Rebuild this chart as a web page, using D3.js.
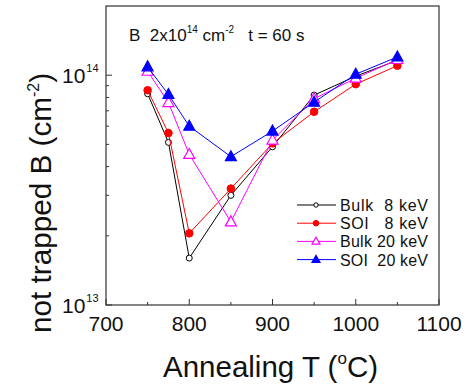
<!DOCTYPE html>
<html><head><meta charset="utf-8">
<script src="https://cdn.jsdelivr.net/npm/d3@7"></script>
<style>body{margin:0;background:#fff}svg{display:block;font-family:"Liberation Sans",Arial,sans-serif}text{white-space:pre}</style>
</head><body><svg id="c" width="468" height="385"></svg>
<script>
const temps = [750, 775, 800, 850, 900, 950, 1000, 1050];
const bulk8  = [8.3e13, 5.1e13, 1.6e13, 3.0e13, 4.88e13, 8.19e13, 9.9e13, 1.16e14];
const soi8   = [8.6e13, 5.6e13, 2.05e13, 3.21e13, 5.05e13, 6.93e13, 9.14e13, 1.1e14];
const bulk20 = [1.04e14, 7.6e13, 4.52e13, 2.3e13, 5.22e13, 7.9e13, 9.7e13, 1.17e14];
const soi20  = [1.087e14, 8.24e13, 6.0e13, 4.42e13, 5.71e13, 7.63e13, 1.01e14, 1.2e14];
const seriesNames = ["Bulk  8 keV", "SOI   8 keV", "Bulk 20 keV", "SOI  20 keV"];
const xTicks = [700, 800, 900, 1000, 1100];

const series = [
  {name: seriesNames[0], vals: bulk8,  color: "#000000", shape: "circle", fill: "#fff"},
  {name: seriesNames[1], vals: soi8,   color: "#ff0000", shape: "circle", fill: "#ff0000"},
  {name: seriesNames[2], vals: bulk20, color: "#ff00ff", shape: "tri", fill: "#fff"},
  {name: seriesNames[3], vals: soi20,  color: "#0000ff", shape: "tri", fill: "#0000ff"}
];

const L = 106, R = 439, T = 6, B = 305;
const svg = d3.select("#c");
const x = d3.scaleLinear().domain([700, 1100]).range([L, R]);
const y = d3.scaleLog().domain([1e13, 2e14]).range([B, T]);

// frame
svg.append("rect").attr("x", L).attr("y", T).attr("width", R - L).attr("height", B - T)
  .attr("fill", "none").attr("stroke", "#333").attr("stroke-width", 1.2);

// x axis ticks (inward)
const xMinor = d3.range(750, 1100, 100);
const gx = svg.append("g");
xTicks.forEach(t => gx.append("line").attr("x1", x(t)).attr("x2", x(t)).attr("y1", B).attr("y2", B - 6).attr("stroke", "#333"));
xMinor.forEach(t => gx.append("line").attr("x1", x(t)).attr("x2", x(t)).attr("y1", B).attr("y2", B - 3).attr("stroke", "#333"));
xTicks.forEach(t => gx.append("text").attr("x", x(t)).attr("y", B + 26).attr("text-anchor", "middle")
  .attr("font-size", 21).attr("fill", "#111").text(t));

// y axis ticks
const gy = svg.append("g");
[1e13, 1e14].forEach(t => gy.append("line").attr("x1", L).attr("x2", L + 6).attr("y1", y(t)).attr("y2", y(t)).attr("stroke", "#333"));
const yMinor = [2,3,4,5,6,7,8,9].map(d => d * 1e13);
yMinor.forEach(t => gy.append("line").attr("x1", L).attr("x2", L + 3).attr("y1", y(t)).attr("y2", y(t)).attr("stroke", "#333"));
[[1e13, "13"], [1e14, "14"]].forEach(([v, e]) => {
  const t = gy.append("text").attr("x", 62).attr("y", y(v) + 8)
    .attr("font-size", 21).attr("fill", "#111");
  t.append("tspan").text("10");
  t.append("tspan").attr("dx", 1).attr("dy", -11).attr("font-size", 11).text(e);
});

// axis titles
const xt = svg.append("text").attr("x", 163).attr("y", 377)
  .attr("font-size", 29.5).attr("fill", "#111");
xt.append("tspan").text("Annealing T (");
xt.append("tspan").attr("dy", -13).attr("font-size", 17).text("o");
xt.append("tspan").attr("dy", 13).text("C)");

const yt = svg.append("text").attr("transform", `translate(51,333) rotate(-90)`)
  .attr("font-size", 29.7).attr("fill", "#111");
yt.append("tspan").text("not trapped B (cm");
yt.append("tspan").attr("dy", -12).attr("font-size", 16).text("-2");
yt.append("tspan").attr("dy", 12).text(")");

// annotation
const an = svg.append("text").attr("x", 129).attr("y", 41).attr("font-size", 17).attr("fill", "#111");
an.append("tspan").text("B  2x10");
an.append("tspan").attr("dy", -8).attr("font-size", 10).text("14");
an.append("tspan").attr("dy", 8).text(" cm");
an.append("tspan").attr("dy", -8).attr("font-size", 10).text("-2");
an.append("tspan").attr("dy", 8).text("   t = 60 s");

// series
const line = d3.line().x(d => x(d[0])).y(d => y(d[1]));
function marker(g, s, cx, cy, small) {
  if (s.shape === "circle") {
    const r = s.fill === "#fff" ? (small ? 2.2 : 3) : (small ? 2.8 : 3.8);
    g.append("circle").attr("cx", cx).attr("cy", cy).attr("r", r)
      .attr("fill", s.fill).attr("stroke", s.color).attr("stroke-width", 1);
  } else {
    const h = small ? 7 : 10, w = small ? 8 : 11;
    g.append("path").attr("d", `M${cx},${cy - h * 0.6}L${cx + w / 2},${cy + h * 0.4}L${cx - w / 2},${cy + h * 0.4}Z`)
      .attr("fill", s.fill).attr("stroke", s.color).attr("stroke-width", 1.2);
  }
}
series.forEach(s => {
  const pts = temps.map((t, i) => [t, s.vals[i]]);
  svg.append("path").datum(pts).attr("d", line).attr("fill", "none").attr("stroke", s.color).attr("stroke-width", 1);
  const g = svg.append("g");
  pts.forEach(p => marker(g, s, x(p[0]), y(p[1]), false));
});

// legend
series.forEach((s, i) => {
  const ly = 205 + i * 18.2;
  svg.append("line").attr("x1", 297).attr("x2", 336).attr("y1", ly).attr("y2", ly).attr("stroke", s.color).attr("stroke-width", 1);
  const g = svg.append("g");
  marker(g, s, 316, ly, true);
  svg.append("text").attr("x", 340).attr("y", ly + 6).attr("font-size", 16).attr("fill", "#111")
    .attr("textLength", 88).attr("lengthAdjust", "spacing").text(s.name);
});
</script></body></html>
